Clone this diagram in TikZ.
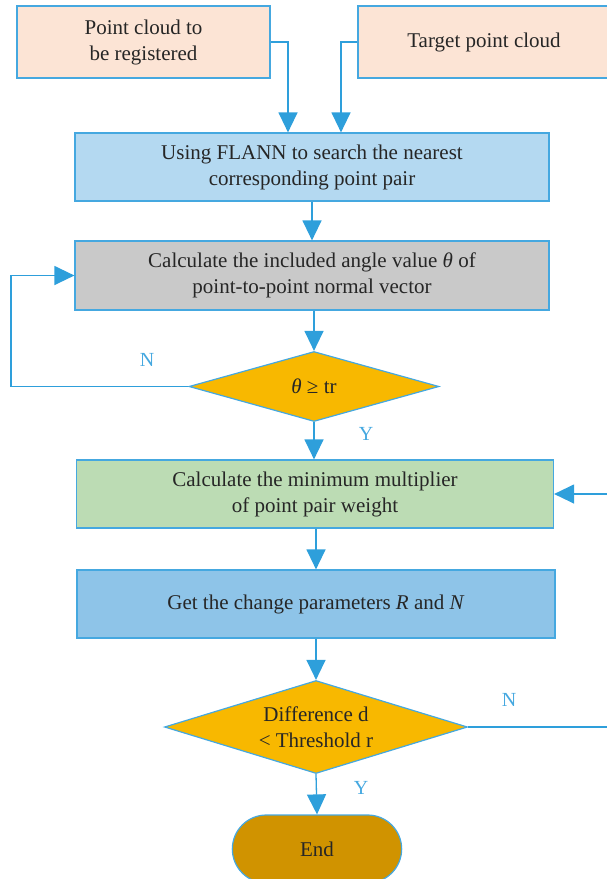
\documentclass[tikz,border=0pt]{standalone}
\usepackage{fontspec}
\setmainfont{Liberation Serif}
\usetikzlibrary{arrows.meta,shapes.geometric,shapes.misc}
\definecolor{lineblue}{HTML}{2E9FDB}
\definecolor{edgeblue}{HTML}{45A8E0}
\definecolor{peach}{HTML}{FCE4D5}
\definecolor{paleblue}{HTML}{B4D9F1}
\definecolor{greybox}{HTML}{C9C9C9}
\definecolor{amber}{HTML}{F8B800}
\definecolor{sage}{HTML}{BCDCB4}
\definecolor{skyblue}{HTML}{8EC4E8}
\definecolor{ochre}{HTML}{D09300}
\begin{document}
\begin{tikzpicture}[x=1pt,y=-1pt,
  every node/.style={font=\fontsize{21}{26}\selectfont,align=center,text=black!85},
  box/.style={shape=rectangle,draw=edgeblue,line width=1.2pt,inner sep=0pt},
  choice/.style={shape=diamond,draw=edgeblue,line width=1.2pt,fill=amber,inner sep=0pt,aspect=3.3},
  arr/.style={draw=lineblue,line width=1.3pt,-{Triangle[length=20pt,width=19pt]}},
  yn/.style={text=edgeblue,font=\fontsize{20}{22}\selectfont}]
\useasboundingbox (0,0) rectangle (607,879);
\clip (0,0) rectangle (607,879);
\node (n1) at (143.5,42) [box,fill=peach,minimum width=253pt,minimum height=72pt] {Point cloud to\\be registered};
\node (n2) at (484,42) [box,fill=peach,minimum width=252pt,minimum height=72pt] {Target point cloud};
\node (n3) at (312,167) [box,fill=paleblue,minimum width=474pt,minimum height=68pt] {Using FLANN to search the nearest\\corresponding point pair};
\node (n4) at (312,275.5) [box,fill=greybox,minimum width=474pt,minimum height=69pt] {Calculate the included angle value \textit{θ} of\\point-to-point normal vector};
\node (d1) at (314,386.5) [choice,minimum width=250pt,minimum height=70pt] {\textit{θ} ≥ tr};
\node (n5) at (315,494) [box,fill=sage,minimum width=477pt,minimum height=68pt] {Calculate the minimum multiplier\\of point pair weight};
\node (n6) at (316,604) [box,fill=skyblue,minimum width=478pt,minimum height=68pt] {Get the change parameters \textit{R} and \textit{N}};
\node (d2) at (316,727) [choice,minimum width=303pt,minimum height=93pt] {Difference d\\< Threshold r};
\node (n7) at (317,849) [shape=rounded rectangle,draw=edgeblue,line width=1.2pt,fill=ochre,minimum width=176pt,minimum height=68pt] {End};
\node (l1) at (147,360) [yn] {N};
\node (l2) at (366,434) [yn] {Y};
\node (l3) at (509,700) [yn] {N};
\node (l4) at (361,788) [yn] {Y};
\coordinate (c1) at (11,386.5);
\coordinate (c2) at (640,727);
\draw[arr] (n1.east) -| ([xshift=-24pt]n3.north);
\draw[arr] (n2.west) -| ([xshift=29pt]n3.north);
\draw[arr] (n3) -- (n4);
\draw[arr] (d1.north |- n4.south) -- (d1.north);
\draw[arr] (d1.south) -- (d1.south |- n5.north);
\draw[arr] (d1.west) -- (c1) |- (n4.west);
\draw[arr] (n6.north |- n5.south) -- (n6.north);
\draw[arr] (n6.south) -- (d2.north);
\draw[arr] (d2.south) -- (n7.north);
\draw[arr] (d2.east) -- (c2) |- (n5.east);
\end{tikzpicture}
\end{document}
